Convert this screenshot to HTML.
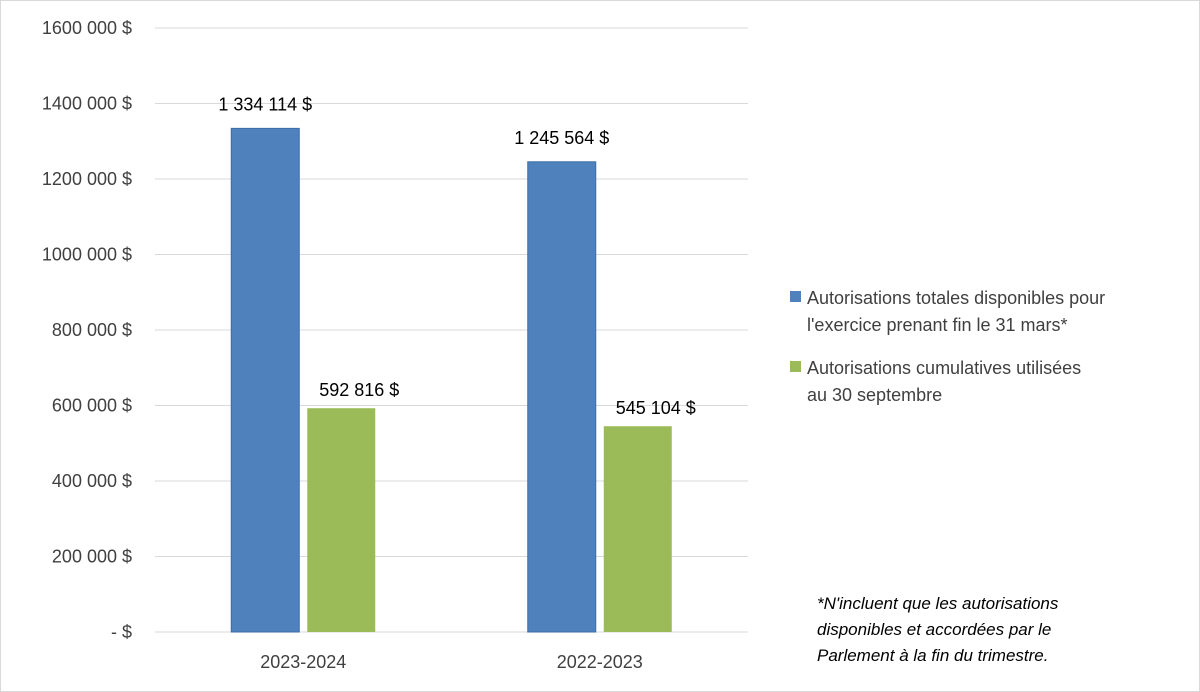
<!DOCTYPE html>
<html><head><meta charset="utf-8"><style>
body{margin:0;background:#fff;}
svg{display:block;font-family:"Liberation Sans",sans-serif;}
</style></head><body>
<svg id="chart" width="1200" height="692">
<rect x="0.5" y="0.5" width="1199" height="691" fill="#fff" stroke="#d9d9d9"/>
<g id="grid"></g><g id="yticks"></g><g id="bars"></g><g id="xlabels"></g>
<g>
<rect x="790" y="291" width="11" height="11" fill="#4f81bd"/>
<text x="807" y="304" font-size="18" fill="#404040">Autorisations totales disponibles pour</text>
<text x="807" y="331" font-size="18" fill="#404040">l'exercice prenant fin le 31 mars*</text>
<rect x="790" y="361" width="11" height="11" fill="#9bbb59"/>
<text x="807" y="374" font-size="18" fill="#404040">Autorisations cumulatives utilisées</text>
<text x="807" y="401" font-size="18" fill="#404040">au 30 septembre</text>
</g>
<g font-style="italic" font-size="17" fill="#000">
<text x="817" y="609">*N'incluent que les autorisations</text>
<text x="817" y="635">disponibles et accordées par le</text>
<text x="817" y="661">Parlement à la fin du trimestre.</text>
</g>
</svg>
<script>
const categories=["2023-2024","2022-2023"];
const totalValues=[1334114,1245564];
const usedValues=[592816,545104];
const totalLabels=["1 334 114 $","1 245 564 $"];
const usedLabels=["592 816  $","545 104  $"];
const tickValues=[0,200000,400000,600000,800000,1000000,1200000,1400000,1600000];
const tickLabels=["-   $","200 000  $","400 000  $","600 000  $","800 000  $","1000 000  $","1200 000  $","1400 000  $","1600 000  $"];
const NS="http://www.w3.org/2000/svg";
const x0=155,x1=748,yTop=28,yBot=632,yMax=1600000;
const y=v=>yBot-v/yMax*(yBot-yTop);
const bandW=(x1-x0)/categories.length;
const bandC=i=>x0+bandW*(i+0.5);
function mk(tag,attrs,parent){const e=document.createElementNS(NS,tag);for(const k in attrs)e.setAttribute(k,attrs[k]);document.getElementById(parent).appendChild(e);return e;}
tickValues.forEach((v,i)=>{
 const l=mk("line",{x1:x0,x2:x1,y1:y(v),y2:y(v),stroke:"#d9d9d9","stroke-width":1},"grid");
 
 
 const t=mk("text",{x:132,y:y(v)+6,"text-anchor":"end","font-size":"18",fill:"#404040"},"yticks");
 t.textContent=tickLabels[i];
 
 
});
const bw=68,gap=8;
categories.forEach((c,i)=>{
 const cx=bandC(i);
 const b1=mk("rect",{x:cx-gap/2-bw,y:y(totalValues[i]),width:bw,height:yBot-y(totalValues[i]),fill:"#4f81bd",stroke:"#3a6ea5","stroke-width":1},"bars");
 
 
 const b2=mk("rect",{x:cx+gap/2,y:y(usedValues[i]),width:bw,height:yBot-y(usedValues[i]),fill:"#9bbb59"},"bars");
 
 
 const t1=mk("text",{x:cx-gap/2-bw/2,y:y(totalValues[i])-18,"text-anchor":"middle","font-size":"18",fill:"#000"},"bars");
 t1.textContent=totalLabels[i];
 
 
 const t2=mk("text",{x:cx+gap/2+bw/2+18,y:y(usedValues[i])-12,"text-anchor":"middle","font-size":"18",fill:"#000","xml:space":"preserve"},"bars");
 t2.textContent=usedLabels[i];
 
 
 const xl=mk("text",{x:cx,y:668,"text-anchor":"middle","font-size":"18",fill:"#404040"},"xlabels");
 xl.textContent=c;
 
 
});
</script>
</body></html>
